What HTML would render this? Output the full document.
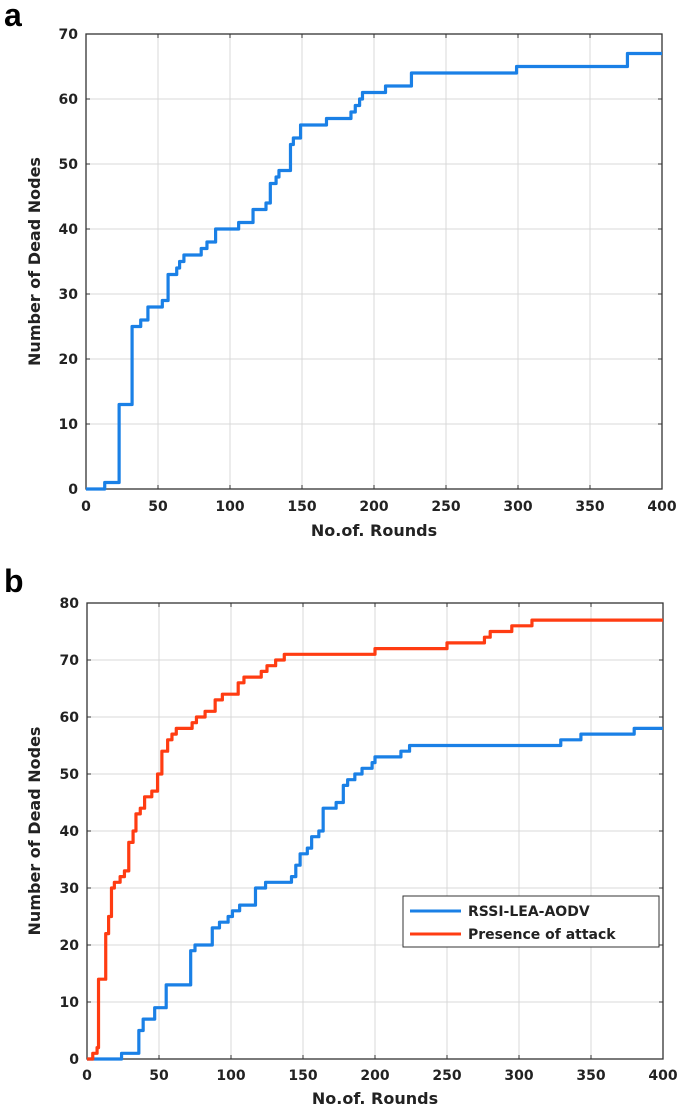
<!DOCTYPE html>
<html><head><meta charset="utf-8"><style>
html,body{margin:0;padding:0;background:#fff;}
svg{display:block;font-family:"DejaVu Sans","Liberation Sans",sans-serif;}
.tick{font-size:14px;font-weight:bold;fill:#222;}
.title{font-size:16px;font-weight:bold;fill:#222;}
.panel{font-size:32px;font-weight:bold;fill:#000;font-family:"Liberation Sans",sans-serif;}
</style></head><body>
<svg id="fig" width="685" height="1112" viewBox="0 0 685 1112">
<text class="panel" x="4" y="26">a</text>
<text class="panel" x="4" y="592">b</text>
</svg>
<script>
// Panel a data (step points: rounds, dead nodes)
const aRounds = [0,13,23,32,38,43,53,57,63,65,68,80,84,90,106,116,125,128,132,134,142,144,149,167,184,187,190,192,208,226,299,376,400];
const aDead   = [0,1,13,25,26,28,29,33,34,35,36,37,38,40,41,43,44,47,48,49,53,54,56,57,58,59,60,61,62,64,65,67,67];
// Panel b data
const bRedRounds = [0,4,7,8,13,15,17,19,23,26,29,32,34,37,40,45,49,52,56,59,62,73,76,82,89,94,105,109,121,125,131,137,200,250,276,280,295,309,400];
const bRedDead   = [0,1,2,14,22,25,30,31,32,33,38,40,43,44,46,47,50,54,56,57,58,59,60,61,63,64,66,67,68,69,70,71,72,73,74,75,76,77,77];
const bBlueRounds = [0,24,36,39,47,55,72,75,87,92,98,101,106,117,124,142,145,148,153,156,161,164,173,178,181,186,191,198,200,218,224,329,343,380,400];
const bBlueDead   = [0,1,5,7,9,13,19,20,23,24,25,26,27,30,31,32,34,36,37,39,40,44,45,48,49,50,51,52,53,54,55,56,57,58,58];
const xTicks = [0,50,100,150,200,250,300,350,400];
const aYTicks = [0,10,20,30,40,50,60,70];
const bYTicks = [0,10,20,30,40,50,60,70,80];
const legendLabels = ["RSSI-LEA-AODV","Presence of attack"];

const NS="http://www.w3.org/2000/svg";
const svg=document.getElementById('fig');
function mk(tag,attrs,parent){const e=document.createElementNS(NS,tag);for(const k in attrs)e.setAttribute(k,attrs[k]);(parent||svg).appendChild(e);return e;}

function panel(id,L,R,T,B,ymax,yTicks,series,tickY,titleY){
  const g=mk('g',{});
  
  
  const xs=v=>L+(R-L)*v/400, ys=v=>B-(B-T)*v/ymax;
  xTicks.forEach(t=>{
    const l=mk('line',{x1:xs(t),x2:xs(t),y1:T,y2:B,stroke:'#d8d8d8','stroke-width':1},g);
    
    
    mk('line',{x1:xs(t),x2:xs(t),y1:B,y2:B-4,stroke:'#333','stroke-width':1},g);
    mk('line',{x1:xs(t),x2:xs(t),y1:T,y2:T+4,stroke:'#333','stroke-width':1},g);
    const tx=mk('text',{x:xs(t),y:tickY,'text-anchor':'middle',class:'tick'},g);
    tx.textContent=t;
    
    
  });
  yTicks.forEach(t=>{
    const l=mk('line',{x1:L,x2:R,y1:ys(t),y2:ys(t),stroke:'#d8d8d8','stroke-width':1},g);
    
    
    mk('line',{x1:L,x2:L+4,y1:ys(t),y2:ys(t),stroke:'#333','stroke-width':1},g);
    mk('line',{x1:R,x2:R-4,y1:ys(t),y2:ys(t),stroke:'#333','stroke-width':1},g);
    const tx=mk('text',{x:L-8,y:ys(t)+5,'text-anchor':'end',class:'tick'},g);
    tx.textContent=t;
    
    
  });
  const box=mk('rect',{x:L,y:T,width:R-L,height:B-T,fill:'none',stroke:'#333','stroke-width':1.3},g);
  
  
  series.forEach(s=>{
    let d='M'+xs(s.x[0])+','+ys(s.y[0]);
    for(let i=1;i<s.x.length;i++){d+=' L'+xs(s.x[i])+','+ys(s.y[i-1])+' L'+xs(s.x[i])+','+ys(s.y[i]);}
    const p=mk('path',{d:d,fill:'none',stroke:s.c,'stroke-width':3.2,'stroke-linejoin':'round'},g);
    
    
  });
  const xt=mk('text',{x:(L+R)/2,y:titleY,'text-anchor':'middle',class:'title'},g);
  xt.textContent='No.of. Rounds';
  
  
  const cy=(T+B)/2;
  const yt=mk('text',{x:40,y:cy,'text-anchor':'middle',class:'title',transform:'rotate(-90 40 '+cy+')'},g);
  yt.textContent='Number of Dead Nodes';
  
  
}
panel('a',86,662,34,489,70,aYTicks,[{x:aRounds,y:aDead,c:'#1a80e6',n:'line-dead-nodes'}],511,536);
panel('b',87,663,603,1059,80,bYTicks,[
  {x:bBlueRounds,y:bBlueDead,c:'#1a80e6',n:'line-rssi-lea-aodv'},
  {x:bRedRounds,y:bRedDead,c:'#ff3c12',n:'line-presence-of-attack'}],1080,1104);

// legend
const lg=mk('g',{});


mk('rect',{x:403,y:896,width:256,height:51,fill:'#fff',stroke:'#333','stroke-width':1},lg);
const cols=['#1a80e6','#ff3c12'];
legendLabels.forEach((lab,i)=>{
  const y=911+i*23;
  mk('line',{x1:410,x2:461,y1:y,y2:y,stroke:cols[i],'stroke-width':3},lg);
  const t=mk('text',{x:468,y:y+5,class:'tick'},lg);
  t.textContent=lab;
  
  
});
</script>
</body></html>
